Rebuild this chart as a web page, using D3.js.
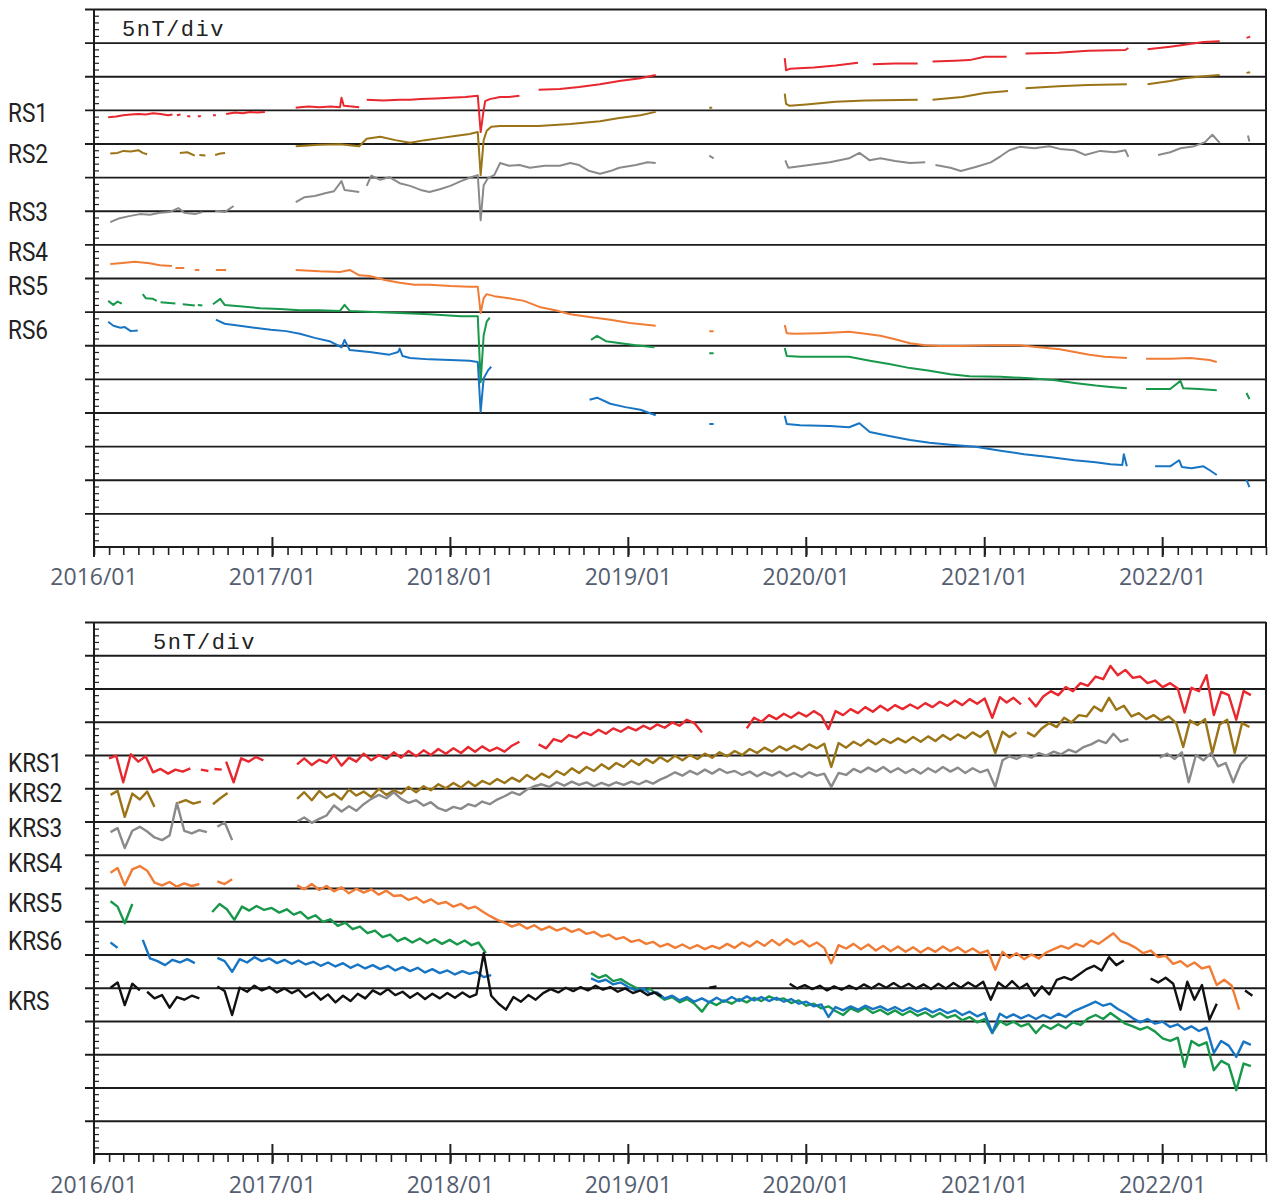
<!DOCTYPE html>
<html>
<head>
<meta charset="utf-8">
<script src="https://cdn.jsdelivr.net/npm/d3@7"></script>
<style>
body { margin: 0; background: #fff; }
svg { display: block; }
.lbl { font-family: Roboto, "DejaVu Sans", sans-serif; font-size: 26px; fill: #222; }
.note { font-family: "Liberation Mono", "DejaVu Sans Mono", monospace; font-size: 22px; fill: #222; }
.yr { font-family: "Open Sans", Lato, sans-serif; font-size: 23px; fill: #555e70; }
</style>
</head>
<body>
<script>
// months counted from 2016/01, values in nT (16 divisions of 5 nT per panel)

const rsNames = ["RS1", "RS2", "RS3", "RS4", "RS5", "RS6"]
const krsNames = ["KRS1", "KRS2", "KRS3", "KRS4", "KRS5", "KRS6", "KRS"]

// upper panel: [month, nT] points, null = gap
const rs1 = [[0.94,63.9],[1.5,64.0],[2.0,64.2],[2.5,64.3],[3.0,64.4],[3.5,64.3],[4.0,64.5],[4.5,64.4],[5.0,64.2],[5.3,64.3],null,
  [5.6,64.2],[5.85,64.3],null,[6.3,64.1],[6.5,64.0],null,[7.0,64.0],[7.2,64.1],null,[8.0,64.2],[8.2,64.2],null,
  [8.9,64.4],[9.5,64.6],[10.0,64.5],[10.5,64.7],[11.0,64.6],[11.5,64.7],null,
  [13.6,65.3],[13.9,65.4],[14.5,65.5],[15.2,65.4],[16.0,65.5],[16.6,65.4],[16.7,66.8],[16.85,65.6],[17.4,65.5],[17.9,65.4],null,
  [18.4,66.5],[19.5,66.4],[20.6,66.5],[21.3,66.5],[22.0,66.6],[23.0,66.7],[24.0,66.8],[25.0,66.9],[25.9,67.1],[26.1,61.7],[26.3,65.0],[26.4,66.3],[26.7,66.6],[27.4,66.9],[28.0,66.9],[28.7,67.1],null,
  [30.0,68.0],[31.4,68.1],[32.7,68.4],[34.1,68.8],[35.4,69.3],[36.8,69.7],[37.9,70.2],null,
  [46.56,72.7],[46.65,70.9],[46.9,71.1],[47.5,71.2],[48.5,71.3],[50.0,71.6],[51.5,72.0],null,[52.5,71.8],[54.0,71.9],[55.5,71.9],null,
  [56.5,72.2],[58.0,72.3],[59.0,72.4],[60.0,72.9],[61.5,72.9],null,[62.8,73.4],[65.0,73.5],[67.0,73.8],[69.5,73.9],[69.7,74.2],null,
  [71.0,74.0],[72.5,74.4],[73.5,74.7],[74.8,75.1],[75.9,75.2],null,[77.7,75.7],[77.95,75.9]]

const rs2 = [[1.08,58.5],[1.6,58.6],[2.0,58.9],[2.5,58.8],[3.0,59.0],[3.3,58.6],[3.6,58.4],null,[5.8,58.6],[6.3,58.7],[6.8,58.2],null,
  [7.1,58.3],[7.5,58.2],null,[8.15,58.3],[8.5,58.5],[8.83,58.6],null,
  [13.6,59.6],[15.2,59.8],[16.6,59.9],[17.9,59.6],[18.4,60.7],[19.3,61.0],[20.3,60.5],[21.3,60.1],[22.3,60.5],[23.3,60.8],[24.3,61.1],[25.3,61.4],[25.9,61.7],
  [26.1,55.3],[26.3,60.5],[26.5,61.9],[26.8,62.5],[27.4,62.6],[30.0,62.6],[32.1,62.9],[34.1,63.3],[35.4,63.8],[36.8,64.2],[37.9,64.7],null,
  [41.5,65.3],[41.7,65.3],null,
  [46.56,67.4],[46.65,65.9],[46.9,65.6],[48.0,65.8],[50.0,66.2],[52.0,66.4],[55.5,66.5],null,[56.5,66.5],[58.5,66.9],[60.0,67.5],[61.6,67.8],null,
  [62.8,68.2],[65.0,68.5],[67.0,68.7],[69.6,68.8],null,
  [71.0,68.8],[72.5,69.3],[73.5,69.7],[74.8,70.0],[75.9,70.2],null,[77.7,70.5],[77.95,70.6]]

const rs3 = [[1.08,48.3],[1.75,48.9],[2.4,49.2],[3.1,49.5],[3.8,49.4],[4.45,49.7],[5.1,49.8],[5.7,50.4],[6.1,49.7],[6.8,49.5],[7.3,49.8],null,
  [8.15,50.0],[8.8,49.8],[9.4,50.7],null,
  [13.6,51.3],[14.2,52.0],[14.9,52.2],[15.6,52.6],[16.2,52.9],[16.7,54.4],[16.9,53.1],[17.9,52.8],null,
  [18.4,53.7],[18.7,55.2],[19.3,54.6],[19.9,55.0],[20.6,54.1],[21.3,53.7],[22.0,53.1],[22.6,52.8],[23.3,53.2],[24.0,53.7],[24.7,54.4],[25.3,54.9],[25.9,55.3],
  [26.1,48.6],[26.3,53.8],[26.6,54.9],[27.0,55.3],[27.4,57.1],[28.0,56.7],[28.7,56.8],[29.4,56.4],[30.4,56.7],[31.4,56.7],[32.1,57.1],[32.7,56.8],
  [33.4,55.9],[34.1,55.5],[34.8,55.9],[35.4,56.4],[36.5,56.8],[37.3,57.2],[37.9,57.1],null,
  [41.5,58.2],[41.8,57.8],null,
  [46.6,57.5],[46.8,56.4],[47.2,56.5],[48.2,56.8],[49.6,57.2],[50.9,57.8],[51.6,58.6],[52.3,57.5],[53.0,57.8],[54.0,57.4],[55.0,57.1],[56.0,57.2],null,
  [56.7,56.8],[57.7,56.4],[58.4,55.9],[59.4,56.5],[60.4,57.2],[61.05,58.1],[61.7,59.0],[62.4,59.5],[63.4,59.3],[64.4,59.6],[65.1,59.2],[66.1,59.0],
  [66.8,58.3],[67.8,58.9],[68.8,58.7],[69.5,59.0],[69.7,58.0],null,
  [71.7,58.3],[72.5,58.7],[73.2,59.3],[74.2,59.6],[74.9,60.2],[75.4,61.3],[75.9,60.1],null,[77.8,61.2],[77.9,60.3]]

const rs4 = [[1.08,42.1],[1.75,42.2],[2.76,42.4],[3.77,42.2],[4.45,41.9],[5.26,41.8],null,[5.5,41.5],[6.1,41.5],null,[6.8,41.2],[7.1,41.2],null,
  [8.2,41.2],[8.9,41.2],null,
  [13.6,41.2],[15.2,41.0],[16.6,40.9],[17.25,41.2],[17.9,40.4],[18.6,40.3],[19.6,39.7],[20.6,39.3],[21.6,39.0],[22.6,39.0],[24.0,38.8],[25.3,38.7],[25.9,38.7],
  [26.1,34.8],[26.3,37.0],[26.5,37.6],[27.0,37.3],[28.0,37.0],[29.0,36.6],[30.05,35.7],[31.1,35.2],[32.1,34.6],[33.4,34.2],[34.8,33.8],[36.1,33.3],[37.9,32.9],null,
  [41.5,32.1],[41.8,32.1],null,
  [46.56,33.0],[46.7,31.8],[47.2,31.7],[48.9,31.8],[50.9,32.0],[52.0,31.7],[53.0,31.4],[54.0,30.9],[55.0,30.3],[56.0,30.0],[57.0,29.9],[58.4,29.9],
  [60.4,30.0],[62.4,30.0],[63.7,29.7],[65.1,29.4],[66.1,29.0],[67.1,28.6],[68.1,28.3],[69.6,28.1],null,
  [70.9,28.0],[72.5,28.0],[73.9,28.1],[75.2,27.8],[75.7,27.5]]

const rs5 = [[0.94,36.6],[1.3,36.0],[1.6,36.5],[1.9,36.2],null,
  [3.3,37.6],[3.5,37.0],[4.0,36.9],[4.25,36.6],null,[4.5,36.4],[5.5,36.2],null,[6.0,36.1],[6.8,35.9],null,[7.0,36.0],[7.3,35.9],null,
  [8.0,36.1],[8.5,36.9],[8.8,36.0],[9.8,35.8],[11.2,35.5],[12.5,35.4],[13.9,35.2],[15.2,35.2],[16.6,35.1],[16.9,36.0],[17.25,35.1],[19.3,34.9],
  [20.6,34.8],[22.6,34.6],[24.7,34.3],[25.9,34.3],[26.1,24.5],[26.3,31.5],[26.5,33.5],[26.7,34.1],null,
  [33.5,30.8],[33.9,31.4],[34.5,30.6],[35.5,30.3],[36.5,30.0],[37.8,29.7],null,
  [41.5,28.8],[41.8,28.8],null,
  [46.56,29.6],[46.7,28.4],[47.6,28.3],[49.6,28.3],[50.9,28.3],[52.3,27.7],[53.6,27.2],[55.0,26.6],[56.3,26.2],[57.7,25.7],[59.0,25.4],[61.05,25.3],
  [63.1,25.1],[64.8,24.8],[66.1,24.4],[67.5,24.0],[68.5,23.8],[69.6,23.6],null,
  [70.9,23.5],[72.5,23.5],[73.2,24.7],[73.4,23.6],[74.5,23.5],[75.7,23.3],null,[77.7,22.9],[77.9,22.0]]

const rs6 = [[0.94,33.5],[1.3,32.9],[1.8,32.6],[2.1,32.7],[2.5,32.1],[2.96,32.2],null,
  [8.2,33.8],[8.8,33.2],[9.8,32.9],[10.8,32.6],[11.9,32.3],[12.9,32.1],[13.9,31.7],[14.9,31.1],[15.9,30.6],[16.7,29.7],[16.9,30.8],[17.25,29.3],
  [18.6,29.0],[19.9,28.6],[20.5,29.0],[20.6,29.5],[20.8,28.4],[21.3,28.1],[22.6,27.9],[24.0,27.8],[25.3,27.7],[25.9,27.5],[26.1,20.1],[26.3,25.1],
  [26.6,26.3],[26.8,26.8],null,
  [33.4,21.9],[33.9,22.2],[34.8,21.3],[35.8,20.8],[36.8,20.4],[37.9,19.6],null,
  [41.5,18.3],[41.8,18.3],null,
  [46.56,19.5],[46.7,18.3],[47.6,18.1],[49.6,18.0],[50.9,17.8],[51.6,18.4],[52.3,17.1],[53.6,16.5],[55.0,15.9],[56.3,15.5],[57.7,15.2],[59.4,14.9],
  [61.05,14.3],[62.7,13.8],[64.4,13.4],[66.1,12.9],[67.5,12.6],[68.5,12.3],[69.3,12.2],[69.4,13.8],[69.6,12.0],null,
  [71.5,12.0],[72.5,12.0],[73.1,12.9],[73.3,11.9],[74.0,11.7],[74.8,12.0],[75.3,11.3],[75.7,10.7],null,[77.7,10.0],[77.9,8.9]]

// lower panel: runs of [start month, values every half month]
const krs1 = [
  [1.0,[59.5,59.9,55.9,60.1,59.0,59.8,57.4,57.9,57.2,57.8,57.5,58.0]],
  [7.2,[57.8,57.6]],
  [8.1,[57.9,57.8]],
  [8.9,[59.0,55.9,59.5,59.0,59.7,59.2]],
  [13.7,[58.6,59.5,58.5,59.3,58.8,60.0,58.4,59.6,59.0,60.2,59.2,60.0,59.4,60.4,59.6,60.6,59.8,60.7,60.0,60.9,60.2,61.0,60.3,61.2,60.5,61.3,60.6,61.1,60.5,61.4,62.0]],
  [30.0,[61.6,61.0,62.4,62.0,63.0,62.6,63.4,63.0,63.8,63.2,64.0,63.5,64.2,63.7,64.4,63.9,64.6,64.1,64.9,64.4,65.3,64.8,63.4]],
  [44.0,[64.0,65.6,65.0,66.0,65.4,66.2,65.6,66.4,65.8,66.6,65.9,63.9,66.6,66.0,66.9,66.3,67.2,66.5,67.4,66.7,67.5,66.9,67.6,67.0,67.8,67.2,68.0,67.4,68.2,67.5,68.4,67.7,68.5,65.6,68.7,67.9,68.6,67.6]],
  [63.0,[68.6,67.3,68.8,69.6,69.0,70.2,69.6,70.8,70.4,71.8,71.4,73.4,72.0,72.8,71.6,71.8,70.8,71.2,70.2,70.8,70.0,66.4,70.1,69.6,72.0,66.0,69.5,69.0,65.3,69.6,69.0]]
]

const krs2 = [
  [1.1,[54.0,54.6,50.7,54.2,53.3,54.5,52.2]],
  [5.7,[52.8,53.2,52.7,53.0]],
  [8.0,[52.6,53.5,54.3]],
  [13.7,[53.4,54.4,53.2,54.6,53.6,54.2,53.3,54.8,53.9,54.5,53.7,54.9,54.0,54.7,54.2,55.2,54.4,55.3,54.7,55.6,
    55.0,55.8,55.1,56.0,55.3,56.1,55.6,56.4,55.8,56.6,56.0,57.0,56.3,57.2,56.6,57.6,57.0,58.0,57.3,58.2,
    57.6,58.6,57.9,58.8,58.2,59.2,58.5,59.4,58.8,59.7,59.0,59.9,59.2,60.0,59.4,60.2,59.6,60.4,59.8,60.6,
    60.0,60.9,60.3,61.1,60.5,61.3,60.7,61.4,60.8,61.6,61.0,61.7,58.2,61.8,61.1,62.0,61.4,62.3,61.6,62.4,
    61.8,62.5,61.9,62.7,62.0,62.8,62.1,63.0,62.3,63.1,62.5,63.4,62.7,63.6,60.3,63.5,62.7,63.4]],
  [62.9,[63.4,62.8,64.0,64.8,64.2,65.6,64.9,66.0,65.8,67.3,66.6,68.6,66.8,67.4,65.8,66.3,65.4,66.0,65.2,65.8,64.8,61.2,65.2,64.5,65.4,60.3,64.6,65.3,60.3,64.8,64.2]]
]

const krs3 = [
  [1.1,[48.4,49.0,46.0,48.6,49.2,48.5,47.6,47.2,47.9,52.8,48.6,48.2,48.7,48.4]],
  [8.3,[49.2,49.9,47.2]],
  [13.7,[50.0,50.6,49.8,50.4,50.9,52.4,51.5,52.3,51.6,52.6,53.4,54.0,53.5,54.4,53.4,52.8,53.2,52.4,52.9,52.0,
    51.6,52.2,51.9,52.6,52.3,53.0,52.6,53.3,53.8,54.4,54.0,54.8,55.3,55.6,55.2,55.9,55.4,56.0,55.5,55.9,
    55.3,55.8,55.4,55.9,55.5,56.0,55.6,56.1,55.7,56.3,56.8,57.4,56.9,57.6,57.1,57.8,57.2,57.9,57.3,57.6,
    57.0,57.5,56.8,57.4,56.9,57.5,56.8,57.3,56.7,57.4,56.9,57.2,55.2,57.3,57.0,57.9,57.4,58.1,57.5,58.2,
    57.4,58.0,57.3,57.9,57.2,58.0,57.4,58.2,57.5,58.1,57.3,58.0,57.4,57.8,55.2,59.2,59.8,59.4,60.0,59.6,
    60.3,59.9,60.5,60.1,60.8,60.4,61.2,61.6,62.2,61.8,63.2,62.0,62.4]],
  [71.8,[59.6,60.2,59.4,60.4,55.9,60.0,59.2,60.3,58.3,58.8,55.9,58.6,59.9]]
]

const krs4 = [
  [1.1,[42.3,43.0,40.4,42.8,43.3,42.6,40.8,40.4,40.9,40.2,40.7,40.3,40.6]],
  [8.3,[41.0,40.6,41.3]],
  [13.7,[40.4,39.8,40.6,39.7,40.3,39.5,40.1,39.2,39.9,39.3,39.8,39.0,39.6,38.8,38.9,38.2,38.6,37.8,38.3,37.6,
    37.9,37.2,37.6,36.9,37.2,36.5,35.8,35.2,34.8,34.2,34.6,33.9,34.4,33.7,34.2,33.6,34.0,33.4,33.8,33.1,
    33.4,32.7,33.0,32.3,32.6,31.9,32.2,31.6,31.9,31.2,31.6,31.0,31.5,30.9,31.4,30.8,31.3,30.9,31.6,31.0,
    31.8,31.2,32.0,31.3,32.2,31.4,32.3,31.5,32.1,31.2,31.8,31.0,28.7,31.4,30.9,31.6,30.8,31.5,30.6,31.3,
    30.5,31.2,30.4,31.1,30.3,31.0,30.4,31.2,30.5,31.1,30.3,30.9,30.2,30.6,27.7,30.4,29.5,30.2,29.3,30.0,
    29.4,30.3,30.8,31.3,30.9,31.6,31.2,32.1,31.6,32.4,33.2,32.0,31.6,31.0,30.2,30.6,29.6,29.8,28.6,29.0,
    28.2,28.8,27.9,28.2,25.4,26.2,25.3,21.7]]
]

const krs5 = [
  [1.1,[38.0,37.2,34.7,37.6]],
  [7.95,[36.4,37.6,36.8,35.2,37.2,36.6,37.3,36.7,37.0,36.3,36.8,36.0,36.4,35.4,35.9,34.9,35.3,34.3,34.8,33.8,
    34.2,33.2,33.6,32.6,33.0,32.0,32.5,31.8,32.4,31.7,32.3,31.6,32.2,31.5,32.1,31.4,31.8,30.2]],
  [33.5,[27.2,26.5,26.9,26.0,26.3,25.6,25.0,24.6,24.8,24.0,23.2,23.6,22.8,23.3,22.6,21.4,22.9,22.4,23.1,22.6,
    23.3,22.8,23.5,23.0,23.7,23.2,23.4,22.7,23.1,22.3,22.6,21.9,22.2,21.5,20.9,21.9,21.4,22.0,21.2,21.7,
    21.0,21.6,20.9,21.5,20.8,21.3,20.6,21.2,20.5,20.9,20.1,20.6,19.8,20.3,18.2,20.0,19.4,19.9,19.2,19.6,
    18.2,19.4,18.8,19.5,18.9,19.8,19.4,20.4,20.9,20.3,21.2,20.4,19.6,19.2,18.7,19.1,18.4,17.4,17.0,17.5,
    13.1,17.0,16.3,16.8,12.6,14.0,13.4,9.6,13.6,13.2]]
]

const krs6 = [
  [1.1,[31.8,31.0]],
  [3.3,[32.2,29.4,29.0,28.4,29.2,28.8,29.3,28.7]],
  [8.3,[29.5,29.0,27.4,29.3,28.8,29.6,29.0,29.4,28.7,29.2,28.6,29.1,28.5,28.9,28.3,28.8,28.2,28.7,28.0,28.5,
    27.9,28.4,27.8,28.3,27.6,28.1,27.5,28.0,27.3,27.8,27.2,27.6,27.0,27.5,27.1,27.4,26.6,26.9]],
  [33.5,[26.4,25.9,26.2,25.5,25.8,25.1,24.6,24.9,24.1,24.3,23.4,23.8,23.1,23.6,22.9,23.4,22.8,23.5,22.9,23.6,
    23.0,23.7,23.1,23.6,23.0,23.5,22.9,23.3,22.6,22.9,22.2,22.5,20.6,22.1,21.6,22.2,21.7,22.3,21.8,22.2,
    21.6,22.1,21.5,22.0,21.4,21.9,21.3,21.8,21.2,21.6,20.9,21.4,20.7,21.2,18.2,21.1,20.5,21.0,20.4,20.9,
    20.3,20.9,20.4,21.1,20.6,21.4,21.9,22.4,22.9,22.3,22.6,21.8,21.2,20.4,19.8,20.3,19.6,19.9,19.1,19.5,
    18.7,19.2,18.5,19.0,15.2,17.0,16.3,14.6,16.9,16.4]]
]

const krs = [
  [1.1,[25.0,25.8,22.4,25.6,24.6]],
  [3.6,[24.4,23.4,23.9,22.0,23.6,23.2,23.8,23.4]],
  [8.3,[25.2,24.5,20.9,25.0,24.4,25.3,24.6,25.1,24.3,24.9,24.2,24.7,23.6,24.3,23.2,24.0,22.8,23.8,23.0,24.1,
    23.4,24.6,24.0,24.8,23.9,24.4,23.5,24.2,23.3,24.1,23.4,24.2,23.5,24.3,23.6,24.0,30.2,23.8,22.6,21.7,
    23.6,22.9,23.9,23.2,24.2,24.8,24.3,25.0,24.5,25.1,24.6,25.3,24.7,25.1,24.4,24.9,24.2,24.6,23.9,24.3,23.7]],
  [41.5,[25.0,25.2]],
  [46.9,[25.6,24.9,25.4,24.8,25.3,24.6,25.2,24.7,25.3,24.8,25.5,24.9,25.6,25.0,25.7,25.0,25.6,24.9,25.5,24.8,
    25.6,24.9,25.7,25.0,25.8,25.1,25.9,23.2,25.8,25.0,26.0,24.9,25.6,23.8,25.2,24.0,26.2,26.6,26.2,27.0,
    27.8,28.3,27.6,29.6,28.4,29.1]],
  [71.2,[26.4,25.8,26.5,25.6,21.7,25.9,23.2,25.4,20.2,22.6]],
  [77.6,[24.6,23.8]]
]

const colors = {
  RS1: "#e8272e", RS2: "#9a7416", RS3: "#8a8a8a", RS4: "#f07c36", RS5: "#17984a", RS6: "#1875c4",
  KRS1: "#e8272e", KRS2: "#9a7416", KRS3: "#8a8a8a", KRS4: "#f07c36", KRS5: "#17984a", KRS6: "#1875c4", KRS: "#111111"
}

const STEP = 0.5
function expandRuns(runs) {
  let out = []
  runs.forEach(([start, vals]) => {
    vals.forEach((v, i) => out.push([start + i * STEP, v]))
    out.push(null)
  })
  return out
}

const W = 1269, H = 1203
const left = 94, right = 1266
const t0 = new Date(2016, 0, 1), t1 = new Date(2022, 7, 1)

function monthDate(m) {
  let i = Math.floor(m), f = m - i
  let a = d3.timeMonth.offset(t0, i), b = d3.timeMonth.offset(t0, i + 1)
  return new Date(+a + f * (b - a))
}

const x = d3.scaleTime().domain([t0, t1]).range([left, right])

const panels = [
  {top: 9, bottom: 547, note: [122, 36], yearY: 585, lw: 2,
    names: rsNames, labelY: [122, 163, 221, 261, 295, 339],
    series: [rs1, rs2, rs3, rs4, rs5, rs6]},
  {top: 622, bottom: 1154, note: [153, 649], yearY: 1193, lw: 2.4,
    names: krsNames, labelY: [772, 802, 837, 872, 912, 950, 1010],
    series: [krs1, krs2, krs3, krs4, krs5, krs6, krs].map(expandRuns)}
]

const svg = d3.select("body").append("svg")
  .attr("width", W)
  .attr("height", H)

panels.forEach(p => {
  let y = d3.scaleLinear().domain([0, 80]).range([p.bottom, p.top])
  let g = svg.append("g")

  // grid lines every 5 nT, sticking out left of the axis
  let grid = g.append("g")
    .attr("transform", `translate(${left - 9},0)`)
    .call(d3.axisLeft(y).tickValues(d3.range(5, 81, 5)).tickSize(-(right - left + 9)).tickFormat(""))
  grid.select(".domain").remove()
  grid.selectAll("line").attr("stroke", "#1c1c1c").attr("stroke-width", 1.8)

  // 1 nT minor ticks inside the axis
  let minor = g.append("g")
    .attr("transform", `translate(${left},0)`)
    .call(d3.axisRight(y).tickValues(d3.range(1, 80).filter(v => v % 5)).tickSize(5).tickFormat(""))
  minor.select(".domain").remove()
  minor.selectAll("line").attr("stroke", "#222").attr("stroke-width", 1.2)

  // monthly ticks
  let xa = g.append("g")
    .attr("transform", `translate(0,${p.bottom})`)
    .call(d3.axisBottom(x).ticks(d3.timeMonth.every(1)).tickSize(8).tickFormat(""))
  xa.select(".domain").remove()
  xa.selectAll("line").attr("stroke", "#222").attr("stroke-width", 1.6)

  // yearly ticks + labels
  let years = x.ticks(d3.timeYear.every(1))
  g.append("g").selectAll("line")
    .data(years)
    .enter()
    .append("line")
    .attr("x1", d => x(d)).attr("x2", d => x(d))
    .attr("y1", p.bottom - 10).attr("y2", p.bottom + 10)
    .attr("stroke", "#222").attr("stroke-width", 2)
  g.append("g").selectAll("text")
    .data(years)
    .enter()
    .append("text")
    .attr("class", "yr")
    .attr("x", d => x(d))
    .attr("y", p.yearY)
    .attr("text-anchor", "middle")
    .text(d3.timeFormat("%Y/%m"))

  // frame
  g.append("line").attr("x1", left).attr("x2", right).attr("y1", p.bottom).attr("y2", p.bottom)
    .attr("stroke", "#1c1c1c").attr("stroke-width", 2)
  g.append("line").attr("x1", left).attr("x2", left).attr("y1", p.top).attr("y2", p.bottom + 9)
    .attr("stroke", "#1c1c1c").attr("stroke-width", 2)
  g.append("line").attr("x1", right).attr("x2", right).attr("y1", p.top).attr("y2", p.bottom)
    .attr("stroke", "#1c1c1c").attr("stroke-width", 2)

  let line = d3.line()
    .defined(d => d)
    .x(d => x(monthDate(d[0])))
    .y(d => y(d[1]))

  p.series.forEach((s, i) => {
    g.append("path")
      .datum(s)
      .attr("d", line)
      .attr("fill", "none")
      .attr("stroke", colors[p.names[i]])
      .attr("stroke-width", p.lw)
      .attr("stroke-linejoin", "round")
  })

  g.append("text")
    .attr("class", "note")
    .attr("x", p.note[0])
    .attr("y", p.note[1])
    .attr("letter-spacing", 1.5)
    .text("5nT/div")

  // narrow labels: squeeze horizontally
  g.selectAll(".lbl")
    .data(p.names)
    .enter()
    .append("text")
    .attr("class", "lbl")
    .attr("transform", (d, i) => `translate(8,${p.labelY[i]}) scale(0.87,1)`)
    .text(d => d)
})
</script>
</body>
</html>
